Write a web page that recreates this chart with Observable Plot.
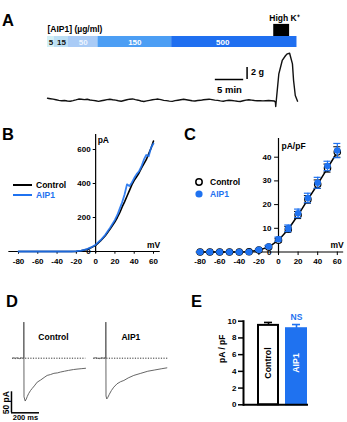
<!DOCTYPE html>
<html>
<head>
<meta charset="utf-8">
<script src="https://cdn.jsdelivr.net/npm/d3@7"></script>
<script src="https://cdn.jsdelivr.net/npm/@observablehq/plot@0.6"></script>
<style>
  body { margin: 0; background: #fff; }
  #fig { position: relative; width: 347px; height: 422px; overflow: hidden; background: #fff;
         font-family: "Liberation Sans", Arial, Helvetica, sans-serif; font-weight: bold; color: #000; }
  .letter { position: absolute; font-size: 16.5px; font-weight: bold; line-height: 1; }
  .leg { position: absolute; height: 12px; display: flex; align-items: center; font-size: 8.5px; font-weight: bold; line-height: 1; white-space: nowrap; }
</style>
</head>
<body>
<div id="fig"></div>
<script>
// ---------- A: cumulative AIP1 application and contractile force ----------
const concLabels = ["5", "15", "50", "150", "500"];        // µg/ml
const concStart  = [0, 1.23, 3.7, 8.9, 21.9];              // min
const concEnd    = [1.23, 3.7, 8.9, 21.9, 44.0];           // min
const highKStart = 39.9, highKEnd = 42.7;                  // min
const forceTime = [0,0.5,1,1.5,2,2.5,3,3.5,4,4.5,5,5.5,6,6.5,7,7.5,8,8.5,9,9.5,10,10.5,11,11.5,12,12.5,13,13.5,14,14.5,
  15,15.5,16,16.5,17,17.5,18,18.5,19,19.5,20,20.5,21,21.5,22,22.5,23,23.5,24,24.5,25,25.5,26,26.5,27,27.5,28,28.5,29,29.5,
  30,30.5,31,31.5,32,32.5,33,33.5,34,34.5,35,35.5,36,36.5,37,37.5,38,38.5,39,39.5,40,
  40.2,40.25,40.8,41.4,42.0,42.3,42.7,43.2,43.4,43.7,44.1];
const forceGrams = [0.38,0.30,0.22,0.12,0.02,-0.05,0.00,-0.08,-0.12,-0.02,0.10,0.24,0.20,0.15,0.20,0.08,0.02,-0.05,-0.14,-0.05,
  0.05,0.14,0.20,0.12,0.06,-0.04,-0.12,0.00,0.12,0.22,0.26,0.14,0.05,-0.08,-0.16,-0.06,0.03,0.12,0.18,0.24,
  0.14,0.03,-0.03,-0.10,-0.14,-0.03,0.05,0.12,0.20,0.12,0.05,-0.05,-0.08,0.00,0.03,0.12,0.17,0.22,0.14,0.07,
  0.02,-0.07,-0.12,-0.03,0.05,0.00,-0.06,-0.12,-0.16,-0.05,0.06,0.12,0.07,0.00,-0.05,-0.02,-0.07,-0.04,0.00,-0.04,-0.08,
  -0.28,-1.0,4.45,6.67,7.5,7.78,7.88,6.1,3.33,0.83,-0.12];

// ---------- B: whole-cell I–V ramps (pA) ----------
const bMv   = [-80,-70,-60,-50,-40,-30,-25,-20,-15,-10,-5,0,5,10,15,20,22.5,25,27.5,30,32.5,35,37.5,40,42.5,45,47.5,50,52.5,55,57.5,60];
const bCtrl = [0,0,0,0,0,0,0,1,4,11,22,36,62,93,132,175,200,228,262,292,325,358,392,418,440,462,490,515,540,575,608,650];
const bAip  = [0,0,0,0,0,0,0,2,5,12,24,40,66,98,140,186,215,252,290,335,395,385,405,432,455,472,500,540,568,560,612,635];
const bXTicks = [-80,-60,-40,-20,0,20,40,60];
const bYTicks = [0,200,400,600];

// ---------- C: current density (pA/pF), mean ± SEM ----------
const cMv      = [-80,-70,-60,-50,-40,-30,-20,-10,0,10,20,30,40,50,60];
const cCtrl    = [0,0,0,0,0,0.1,0.8,2.1,5.0,9.6,15.6,22.2,28.6,35.4,42.2];
const cCtrlErr = [0.1,0.1,0.1,0.1,0.1,0.1,0.3,0.5,0.8,1.2,1.5,1.6,1.8,1.7,2.2];
const cAip     = [0,0,0,0,0,0,0.9,2.3,5.4,10.0,16.3,22.8,29.2,36.3,42.8];
const cAipErr  = [0.1,0.1,0.1,0.1,0.1,0.1,0.3,0.5,0.9,1.4,1.8,2.0,2.3,2.0,3.0];
const cXTicks = [-80,-60,-40,-20,0,20,40,60];
const cYTicks = [0,10,20,30,40];

// ---------- D: Ca2+ current traces (ms, pA) ----------
const dCtrlT = [-80,-70,-60,-50,-40,-30,-20,-10,-4,0,0.3,1.5,10,18,25,35,48,60,75,96,120,145,167,190,215,240,262,290,320,355,380,410,441];
const dCtrlI = [0,1,-1,1,0,-1,1,0,1,0,86,-92,-102,-97,-91,-84,-77,-72,-66,-57,-52,-46,-41,-39,-36,-35,-33,-31,-29,-27,-26,-25,-24];
const dAipT  = [-86,-75,-60,-45,-30,-15,-5,0,0.3,1.5,7,15,25,40,57,80,105,129,160,200,250,300,350,400,436];
const dAipI  = [0,1,0,-1,1,0,1,0,86,-90,-97,-93,-86,-77,-69,-61,-56,-53,-47,-41,-36,-31,-28,-25,-23];

// ---------- E: peak current density (pA/pF), mean ± SEM ----------
const eGroups = ["Control", "AIP1"];
const eMean   = [9.5, 9.1];
const eSem    = [0.35, 0.5];
const eTicks  = [0, 2, 4, 6, 8, 10];

// ---------- styling ----------
const FONT = '"Liberation Sans", Arial, Helvetica, sans-serif';
const BLUE = "#1f72f0";
const concFill = ["#d4f0f5", "#bcdff4", "#a9cbf6", "#4c9ef4", "#1f6ff0"];
const concInk  = ["#111", "#111", "#eef5ff", "#fff", "#fff"];

const fig = document.getElementById("fig");
function mount(node, left, top) {
  node.style.position = "absolute";
  node.style.left = left + "px";
  node.style.top = top + "px";
  fig.appendChild(node);
}
function svgStyle() {
  return {background: "transparent", fontFamily: FONT, fontSize: "8px", fontWeight: "bold",
          overflow: "visible", color: "#000", maxWidth: "none"};
}
function letter(ch, left, top) {
  const d = document.createElement("div");
  d.className = "letter"; d.textContent = ch;
  d.style.left = left + "px"; d.style.top = top + "px";
  fig.appendChild(d);
}
function legend(left, cy, swatch, label, color) {
  const d = document.createElement("div");
  d.className = "leg";
  d.style.left = left + "px"; d.style.top = (cy - 6) + "px";
  d.innerHTML = swatch + `<span style="color:${color}">${label}</span>`;
  fig.appendChild(d);
}

// A: protocol strip
const xTime = {domain: [0, 40], range: [47, 273.8]};
const labelAt = concStart.map((s, i) => (s + Math.min(concEnd[i], highKStart)) / 2);
mount(Plot.plot({
  width: 347, height: 40, style: svgStyle(),
  x: {...xTime, axis: null},
  y: {domain: [0, 1], range: [37, 26], axis: null},
  color: {type: "identity"},
  marks: [
    Plot.rect(concLabels, {x1: (d, i) => concStart[i], x2: (d, i) => concEnd[i], y1: 0, y2: 1, fill: (d, i) => concFill[i]}),
    Plot.rect(["High K⁺"], {x1: highKStart, x2: highKEnd, y1: 1, y2: 2.1, fill: "#000"}),
    Plot.text(concLabels, {x: (d, i) => labelAt[i], y: 0.5, text: d => d, fill: (d, i) => concInk[i], fontSize: 8, fontWeight: "bold"}),
    Plot.text(["[AIP1] (µg/ml)"], {x: 0, y: 1.65, textAnchor: "start", fontSize: 8.5, fontWeight: "bold"}),
    Plot.text(["High K⁺"], {x: (highKStart + highKEnd) / 2 + 0.5, y: 2.1, dy: -6, fontSize: 8.5, fontWeight: "bold"})
  ]
}), 0, 10);

// A: force trace with scale bars
const forceRows = forceTime.map((t, i) => ({t, g: forceGrams[i]}));
const sbT = 29.6, sbG = 3.5;   // scale bar corner (min, g)
mount(Plot.plot({
  width: 347, height: 75, style: svgStyle(),
  x: {...xTime, axis: null},
  y: {domain: [0, 10], range: [60, 0], axis: null},
  marks: [
    Plot.line(forceRows, {x: "t", y: "g", stroke: "#111", strokeWidth: 1.4}),
    Plot.ruleY([sbG], {x1: sbT, x2: sbT + 5, stroke: "#000", strokeWidth: 1.5}),
    Plot.ruleX([sbT + 5.6], {y1: sbG, y2: sbG + 2, stroke: "#000", strokeWidth: 1.5}),
    Plot.text(["5 min"], {x: sbT + 2.5, y: sbG, dy: 10, fontSize: 9.5, fontWeight: "bold"}),
    Plot.text(["2 g"], {x: sbT + 5.6, y: sbG + 1.2, dx: 4, textAnchor: "start", fontSize: 9, fontWeight: "bold"})
  ]
}), 0, 40);

// B: I–V ramps
const bCtrlRows = bMv.map((v, i) => ({mv: v, pA: bCtrl[i]}));
const bAipRows  = bMv.map((v, i) => ({mv: v, pA: bAip[i]}));
mount(Plot.plot({
  width: 172, height: 152, style: svgStyle(),
  x: {domain: [-80, 60], range: [18, 153], axis: null},
  y: {domain: [0, 600], range: [133, 31], axis: null},
  marks: [
    Plot.ruleY([0], {x1: -90, x2: 67, stroke: "#000", strokeWidth: 1.2}),
    Plot.ruleX([0], {y1: -12, y2: 688, stroke: "#000", strokeWidth: 1.2}),
    Plot.ruleX(bXTicks, {x: d => d, y1: 0, y2: -16, stroke: "#000"}),
    Plot.ruleY(bYTicks.slice(1), {y: d => d, x1: 0, x2: -2.5, stroke: "#000"}),
    Plot.text(bXTicks, {x: d => d, y: 0, dy: 10, text: d => String(d), fontSize: 8, fontWeight: "bold"}),
    Plot.text(bYTicks, {x: 0, y: d => d, dx: -5, textAnchor: "end", text: d => String(d), fontSize: 8, fontWeight: "bold"}),
    Plot.text(["pA"], {x: 0, y: 688, dx: 2, dy: 6, textAnchor: "start", fontSize: 8.5, fontWeight: "bold"}),
    Plot.text(["mV"], {x: 67, y: 0, dy: -6, textAnchor: "end", fontSize: 8.5, fontWeight: "bold"}),
    Plot.line(bCtrlRows, {x: "mv", y: "pA", stroke: "#000", strokeWidth: 1.6}),
    Plot.line(bAipRows, {x: "mv", y: "pA", stroke: BLUE, strokeWidth: 1.8, strokeOpacity: 0.9})
  ]
}), 0, 118);
legend(13, 185, `<svg width="19" height="12" style="margin-right:4px"><line x1="0" x2="19" y1="6" y2="6" stroke="#000" stroke-width="2"/></svg>`, "Control", "#000");
legend(13, 195, `<svg width="19" height="12" style="margin-right:4px"><line x1="0" x2="19" y1="6" y2="6" stroke="${BLUE}" stroke-width="2"/></svg>`, "AIP1", BLUE);

// C: current density
const cRows = cMv.map((v, i) => ({mv: v, ctrl: cCtrl[i], ctrlErr: cCtrlErr[i], aip: cAip[i], aipErr: cAipErr[i]}));
const cap = 3.6;
mount(Plot.plot({
  width: 175, height: 152, style: svgStyle(),
  x: {domain: [-80, 60], range: [27.6, 164.8], axis: null},
  y: {domain: [0, 40], range: [133.5, 38.7], axis: null},
  marks: [
    Plot.ruleY([0], {x1: -84, x2: 66.5, stroke: "#000", strokeWidth: 1.2}),
    Plot.ruleX([0], {y1: -1, y2: 47.9, stroke: "#000", strokeWidth: 1.2}),
    Plot.ruleX(cXTicks, {x: d => d, y1: 0, y2: -1.5, stroke: "#000"}),
    Plot.ruleY(cYTicks.slice(1), {y: d => d, x1: 0, x2: -4, stroke: "#000"}),
    Plot.text(cXTicks, {x: d => d, y: 0, dy: 9.5, text: d => String(d), fontSize: 8, fontWeight: "bold"}),
    Plot.text(cYTicks, {x: 0, y: d => d, dx: -7, textAnchor: "end", text: d => String(d), fontSize: 8, fontWeight: "bold"}),
    Plot.text(["pA/pF"], {x: 0, y: 47.9, dx: 3, dy: 8, textAnchor: "start", fontSize: 8.5, fontWeight: "bold"}),
    Plot.text(["mV"], {x: 66.5, y: 0, dy: -7, textAnchor: "end", fontSize: 8.5, fontWeight: "bold"}),
    Plot.line(cRows, {x: "mv", y: "ctrl", stroke: "#000", strokeWidth: 1.5}),
    Plot.ruleX(cRows, {x: "mv", y1: d => d.ctrl - d.ctrlErr, y2: d => d.ctrl + d.ctrlErr, stroke: "#000"}),
    Plot.ruleY(cRows, {y: d => d.ctrl + d.ctrlErr, x1: d => d.mv - cap, x2: d => d.mv + cap, stroke: "#000"}),
    Plot.ruleY(cRows, {y: d => d.ctrl - d.ctrlErr, x1: d => d.mv - cap, x2: d => d.mv + cap, stroke: "#000"}),
    Plot.dot(cRows, {x: "mv", y: "ctrl", r: 3.2, stroke: "#000", fill: "#fff", strokeWidth: 1.2}),
    Plot.ruleX(cRows, {x: "mv", y1: d => d.aip - d.aipErr, y2: d => d.aip + d.aipErr, stroke: BLUE, strokeWidth: 1.2}),
    Plot.ruleY(cRows, {y: d => d.aip + d.aipErr, x1: d => d.mv - cap, x2: d => d.mv + cap, stroke: BLUE, strokeWidth: 1.2}),
    Plot.ruleY(cRows, {y: d => d.aip - d.aipErr, x1: d => d.mv - cap, x2: d => d.mv + cap, stroke: BLUE, strokeWidth: 1.2}),
    Plot.dot(cRows, {x: "mv", y: "aip", r: 3.3, fill: BLUE, stroke: "none"})
  ]
}), 172, 118);
legend(195, 182, `<svg width="8" height="12" style="margin-right:7px"><circle cx="4" cy="6" r="3.2" fill="#fff" stroke="#000" stroke-width="1.5"/></svg>`, "Control", "#000");
legend(195, 194, `<svg width="8" height="12" style="margin-right:7px"><circle cx="4" cy="6" r="3.6" fill="${BLUE}"/></svg>`, "AIP1", BLUE);

// D: current traces
function currentTrace(t, pA, title, titleAt, withScale) {
  const rows = t.map((v, i) => ({t: v, pA: pA[i]}));
  const marks = [
    Plot.ruleY([0], {x1: t[0], x2: 443, stroke: "#333", strokeWidth: 1, strokeDasharray: "1.2,1.4"}),
    Plot.line(rows, {x: "t", y: "pA", stroke: "#555", strokeWidth: 0.9}),
    Plot.text([title], {x: titleAt, y: 49, fontSize: 8.5, fontWeight: "bold"})
  ];
  if (withScale) {
    const t0 = -88, i0 = -130;
    marks.push(
      Plot.ruleX([t0], {y1: i0, y2: i0 + 50, stroke: "#000", strokeWidth: 1.5}),
      Plot.ruleY([i0], {x1: t0, x2: t0 + 200, stroke: "#000", strokeWidth: 1.5}),
      Plot.text(["50 pA"], {x: t0, y: i0 + 24, dx: -5, rotate: -90, fontSize: 8.5, fontWeight: "bold"}),
      Plot.text(["200 ms"], {x: t0 + 100, y: i0, dy: 5, fontSize: 7.5, fontWeight: "bold"})
    );
  }
  return Plot.plot({
    width: 95, height: 122, style: svgStyle(),
    x: {domain: [0, 200], range: [23.3, 51.3], axis: null},
    y: {domain: [0, -50], range: [57.7, 78.7], axis: null},
    marks
  });
}
mount(currentTrace(dCtrlT, dCtrlI, "Control", 212, true), 0, 300);
mount(currentTrace(dAipT, dAipI, "AIP1", 179, false), 81.7, 300);

// E: bar chart
const eRows = eGroups.map((g, i) => ({group: g, mean: eMean[i], sem: eSem[i]}));
const ink = d => d.group === "AIP1" ? BLUE : "#000";
mount(Plot.plot({
  width: 147, height: 122, marginLeft: 43, marginRight: 39, marginTop: 20.7, marginBottom: 17.7,
  style: svgStyle(),
  x: {domain: eGroups, range: [50, 114], paddingInner: 0.28, paddingOuter: 0.25, axis: null},
  y: {domain: [0, 10], axis: null, label: null},
  color: {type: "identity"},
  marks: [
    Plot.ruleX(eRows, {x: "group", y1: "mean", y2: d => d.mean + d.sem, stroke: ink, strokeWidth: 1.6}),
    Plot.tickY(eRows, {x: "group", y: d => d.mean + d.sem, insetLeft: 6, insetRight: 6, stroke: ink, strokeWidth: 1.6}),
    Plot.barY(eRows, {x: "group", y: "mean", fill: d => d.group === "AIP1" ? BLUE : "#fff",
                      stroke: d => d.group === "AIP1" ? BLUE : "#000", strokeWidth: 2}),
    Plot.text(eRows, {x: "group", y: 5, text: "group", rotate: -90, fill: d => d.group === "AIP1" ? "#fff" : "#000", fontSize: 8.8, fontWeight: "bold"}),
    Plot.text(eRows.filter(d => d.group === "AIP1"), {x: "group", y: d => d.mean + d.sem, dy: -7, text: () => "NS", fill: BLUE, fontSize: 8.5, fontWeight: "bold"}),
    Plot.axisY({ticks: eTicks, tickSize: 5, tickPadding: 2, strokeWidth: 1.5, label: null, fontSize: 8, fontWeight: "bold"}),
    Plot.frame({anchor: "left", stroke: "#000", strokeWidth: 2}),
    Plot.ruleY([0], {stroke: "#000", strokeWidth: 2}),
    Plot.text(["pA / pF"], {frameAnchor: "left", dx: -21, rotate: -90, fontSize: 8.5, fontWeight: "bold"})
  ]
}), 200, 300);

// panel letters
letter("A", 2, 12);
letter("B", 2, 126);
letter("C", 184, 126);
letter("D", 6, 293);
letter("E", 191, 293);
</script>
</body>
</html>
